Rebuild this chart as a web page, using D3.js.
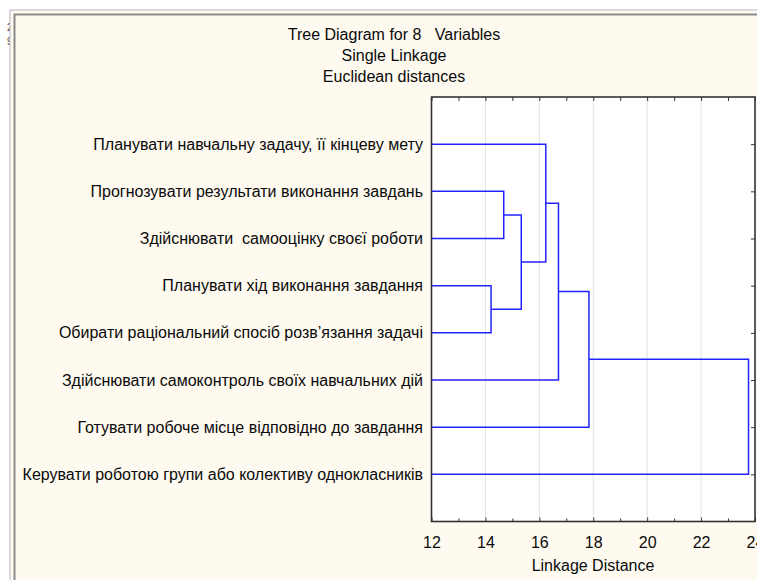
<!DOCTYPE html>
<html>
<head>
<meta charset="utf-8">
<script src="https://cdn.jsdelivr.net/npm/d3@7"></script>
<style>
  html, body { margin: 0; padding: 0; background: #ffffff; }
  svg { display: block; }
  text { font-family: "Liberation Sans", Arial, sans-serif; fill: #0a0a0a; white-space: pre; }
</style>
</head>
<body>
<script>
// ---- data ----
const titleLines = ["Tree Diagram for 8   Variables", "Single Linkage", "Euclidean distances"];
const leafLabels = [
  "Планувати навчальну задачу, її кінцеву мету",
  "Прогнозувати результати виконання завдань",
  "Здійснювати  самооцінку своєї роботи",
  "Планувати хід виконання завдання",
  "Обирати раціональний спосіб розв’язання задачі",
  "Здійснювати самоконтроль своїх навчальних дій",
  "Готувати робоче місце відповідно до завдання",
  "Керувати роботою групи або колективу однокласників"
];
// merges (leaves 0..7, clusters 8..14 in order)
const mergeLeft  = [3, 1, 9, 0, 11, 12, 13];
const mergeRight = [4, 2, 8, 10, 5, 6, 7];
const mergeDist  = [14.21, 14.68, 15.33, 16.24, 16.71, 17.84, 23.76];
const xTicks = [12, 14, 16, 18, 20, 22, 24];
const xMinorTicks = [13, 15, 17, 19, 21, 23];
const xTitle = "Linkage Distance";

// ---- layout ----
const W = 757, H = 580;
const plot = { left: 431.5, right: 755, top: 97, bottom: 521.5 };
const FS = 16;

const svg = d3.select("body").append("svg").attr("width", W).attr("height", H);

// page frame
svg.append("rect").attr("x", 0).attr("y", 0).attr("width", W).attr("height", H).attr("fill", "#ffffff");
svg.append("text").attr("x", 7).attr("y", 31).attr("font-size", 10).style("fill", "#444").text("2");
svg.append("text").attr("x", 7).attr("y", 45).attr("font-size", 10).style("fill", "#444").text("9");
svg.append("rect").attr("x", 10).attr("y", 10).attr("width", W).attr("height", H)
  .attr("fill", "#fffaf0").attr("stroke", "#b8b4c4").attr("stroke-width", 1);
svg.append("path").attr("d", `M14.5,${H} V14.5 H${W}`)
  .attr("fill", "none").attr("stroke", "#8a8a8a").attr("stroke-width", 2);
svg.append("rect").attr("x", 16).attr("y", 16).attr("width", W).attr("height", H).attr("fill", "#fffaf0");

// titles
const titleY = [40, 61, 82];
svg.selectAll("text.title").data(titleLines).enter().append("text")
  .attr("class", "title")
  .attr("x", 394).attr("y", (d, i) => titleY[i])
  .attr("text-anchor", "middle").attr("font-size", FS).text(d => d);

// scales
const x = d3.scaleLinear().domain([12, 24]).range([plot.left, plot.right]);
const y = d3.scalePoint().domain(d3.range(leafLabels.length)).range([plot.top, plot.bottom]).padding(1);

// plot background
svg.append("rect").attr("x", plot.left).attr("y", plot.top)
  .attr("width", plot.right - plot.left).attr("height", plot.bottom - plot.top)
  .attr("fill", "#ffffff");

// gridlines
svg.append("g").selectAll("line").data(xTicks.slice(1, -1)).enter().append("line")
  .attr("x1", d => x(d)).attr("x2", d => x(d))
  .attr("y1", plot.top).attr("y2", plot.bottom)
  .attr("stroke", "#e2e2e2").attr("stroke-width", 1);

// dendrogram
const nodeX = leafLabels.map(() => 12);
const nodeY = leafLabels.map((d, i) => y(i));
const links = [];
mergeDist.forEach((h, k) => {
  const a = mergeLeft[k], b = mergeRight[k];
  const ya = nodeY[a], yb = nodeY[b];
  links.push(`M${x(nodeX[a])},${ya}H${x(h)}V${yb}H${x(nodeX[b])}`);
  nodeX.push(h);
  nodeY.push((ya + yb) / 2);
});
svg.append("g").selectAll("path").data(links).enter().append("path")
  .attr("d", d => d).attr("fill", "none")
  .attr("stroke", "#2323ff").attr("stroke-width", 1.5);

// leaf labels
svg.append("g").selectAll("text").data(leafLabels).enter().append("text")
  .attr("x", 423).attr("y", (d, i) => y(i) + 5.5)
  .attr("text-anchor", "end").attr("font-size", FS).text(d => d);

// axes (ticks inside)
const axisColor = "#333";
const bottomAxis = d3.axisBottom(x).tickValues(xTicks).tickSize(-4).tickPadding(15).tickFormat(d3.format("d"));
const gb = svg.append("g").attr("transform", `translate(0,${plot.bottom})`).call(bottomAxis);
gb.select(".domain").remove();
gb.selectAll(".tick line").attr("stroke", axisColor);
gb.selectAll(".tick text").attr("font-size", FS).attr("font-family", "Liberation Sans, Arial, sans-serif").style("fill", "#0a0a0a");

const bottomMinor = d3.axisBottom(x).tickValues(xMinorTicks).tickSize(-3).tickFormat("");
const gbm = svg.append("g").attr("transform", `translate(0,${plot.bottom})`).call(bottomMinor);
gbm.select(".domain").remove();
gbm.selectAll(".tick line").attr("stroke", axisColor);

const topAxis = d3.axisTop(x).tickValues(xTicks.concat(xMinorTicks)).tickSize(-4).tickFormat("");
const gt = svg.append("g").attr("transform", `translate(0,${plot.top})`).call(topAxis);
gt.select(".domain").remove();
gt.selectAll(".tick line").attr("stroke", axisColor);

const rightAxis = d3.axisRight(y).tickSize(-4).tickFormat("");
const gr = svg.append("g").attr("transform", `translate(${plot.right},0)`).call(rightAxis);
gr.select(".domain").remove();
gr.selectAll(".tick line").attr("stroke", axisColor);

// frame
svg.append("rect").attr("x", plot.left).attr("y", plot.top)
  .attr("width", plot.right - plot.left).attr("height", plot.bottom - plot.top)
  .attr("fill", "none").attr("stroke", "#333").attr("stroke-width", 1.6);

// x title
svg.append("text").attr("x", 593).attr("y", 571).attr("text-anchor", "middle")
  .attr("font-size", FS).text(xTitle);
</script>
</body>
</html>
